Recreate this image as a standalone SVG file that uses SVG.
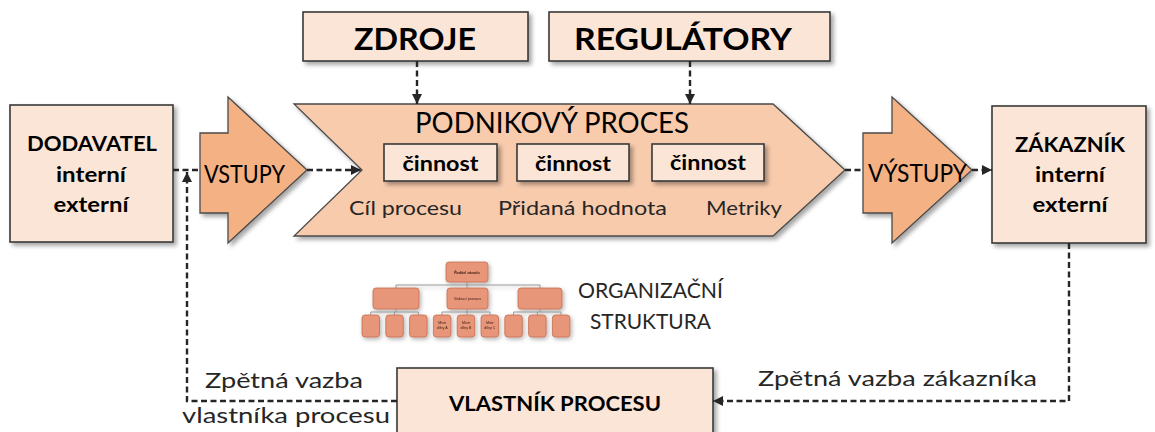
<svg xmlns="http://www.w3.org/2000/svg" width="1155" height="432" viewBox="0 0 1155 432">
  <defs>
    <filter id="shadow" x="-10%" y="-10%" width="130%" height="140%">
      <feDropShadow dx="3" dy="3" stdDeviation="2.2" flood-color="#000" flood-opacity="0.35"/>
    </filter>
    <filter id="softShadow" x="-10%" y="-10%" width="130%" height="140%">
      <feGaussianBlur in="SourceGraphic" stdDeviation="0.45" result="b"/>
      <feDropShadow in="b" dx="1.5" dy="2" stdDeviation="2" flood-color="#000" flood-opacity="0.3"/>
    </filter>
    <marker id="ah" viewBox="0 0 10 10" refX="10" refY="5" markerWidth="10" markerHeight="10" markerUnits="userSpaceOnUse" orient="auto">
      <path d="M0,0 L10,5 L0,10 z" fill="#262626"/>
    </marker>
  </defs>
  <style>
    .box { fill: #FBE5D6; stroke: #3a3a3a; stroke-width: 1.6; }
    .chev { fill: #F8CBAD; stroke: #4a4a4a; stroke-width: 1.3; }
    .io { fill: #F4B183; stroke: #4a4a4a; stroke-width: 1.3; }
    .org { fill: #E8967A; stroke: #C56B4B; stroke-width: 0.8; }
    .orgline { fill: none; stroke: #8c8c8c; stroke-width: 0.9; }
    .t { font-family: Lato, "Open Sans", "Noto Sans", sans-serif; }
    .b { font-weight: bold; fill: #000; }
    .r { font-weight: normal; fill: #262626; }
    .tiny { font-family: "Liberation Sans", Arial, sans-serif; font-size: 3.6px; fill: #3a1a10; text-anchor: middle; }
    .dash { fill: none; stroke: #262626; stroke-width: 2.4; stroke-dasharray: 6 3.5; }
  </style>

  <rect width="1155" height="432" fill="#ffffff"/>

  <!-- resources -->
  <g id="zdroje">
    <rect class="box" x="303" y="12" width="225" height="49" filter="url(#shadow)"/>
    <text class="t b" x="415" y="50" font-size="30" text-anchor="middle" textLength="122" lengthAdjust="spacingAndGlyphs">ZDROJE</text>
  </g>

  <!-- regulators -->
  <g id="regulatory">
    <rect class="box" x="549" y="12" width="281" height="49" filter="url(#shadow)"/>
    <text class="t b" x="683" y="50" font-size="30" text-anchor="middle" textLength="218" lengthAdjust="spacingAndGlyphs">REGULÁTORY</text>
  </g>

  <!-- supplier -->
  <g id="dodavatel">
    <rect class="box" x="10" y="105" width="163" height="137" filter="url(#shadow)"/>
    <text class="t b" x="92" y="151" font-size="20" text-anchor="middle" textLength="130" lengthAdjust="spacingAndGlyphs">DODAVATEL</text>
    <text class="t b" x="91" y="182" font-size="20" text-anchor="middle" textLength="70" lengthAdjust="spacingAndGlyphs">interní</text>
    <text class="t b" x="91" y="212" font-size="20" text-anchor="middle" textLength="75" lengthAdjust="spacingAndGlyphs">externí</text>
  </g>

  <!-- inputs -->
  <g id="vstupy">
    <polygon class="io" points="200,133 228,133 228,97 307,170 228,243 228,213 200,213" filter="url(#shadow)"/>
    <text class="t r" x="204" y="183" font-size="25" fill="#000" style="fill:#000" textLength="81" lengthAdjust="spacingAndGlyphs">VSTUPY</text>
  </g>

  <!-- business process -->
  <g id="podnikovy-proces">
    <polygon class="chev" points="294,104 773,104 845,170 773,236 294,236 362,170" filter="url(#shadow)"/>
    <text class="t r" x="415" y="133" font-size="28" style="fill:#000" textLength="274" lengthAdjust="spacingAndGlyphs">PODNIKOVÝ PROCES</text>
    <g id="cinnost-1">
      <rect class="box" x="384" y="144" width="113" height="37" filter="url(#shadow)"/>
      <text class="t b" x="440.5" y="171" font-size="20" text-anchor="middle" textLength="76" lengthAdjust="spacingAndGlyphs">činnost</text>
    </g>
    <g id="cinnost-2">
      <rect class="box" x="517" y="144" width="112" height="37" filter="url(#shadow)"/>
      <text class="t b" x="573" y="171" font-size="20" text-anchor="middle" textLength="76" lengthAdjust="spacingAndGlyphs">činnost</text>
    </g>
    <g id="cinnost-3">
      <rect class="box" x="652" y="144" width="112" height="37" filter="url(#shadow)"/>
      <text class="t b" x="708" y="170" font-size="20" text-anchor="middle" textLength="76" lengthAdjust="spacingAndGlyphs">činnost</text>
    </g>
    <text class="t r" x="349" y="215" font-size="20" textLength="113" lengthAdjust="spacingAndGlyphs">Cíl procesu</text>
    <text class="t r" x="498" y="215" font-size="20" textLength="169" lengthAdjust="spacingAndGlyphs">Přidaná hodnota</text>
    <text class="t r" x="706" y="215" font-size="20" textLength="76" lengthAdjust="spacingAndGlyphs">Metriky</text>
  </g>

  <!-- outputs -->
  <g id="vystupy">
    <polygon class="io" points="863,133 892,133 892,97 972,170 892,243 892,213 863,213" filter="url(#shadow)"/>
    <text class="t r" x="868" y="182" font-size="25" style="fill:#000" textLength="99" lengthAdjust="spacingAndGlyphs">VÝSTUPY</text>
  </g>

  <!-- customer -->
  <g id="zakaznik">
    <rect class="box" x="992" y="106" width="154" height="137" filter="url(#shadow)"/>
    <text class="t b" x="1070" y="152" font-size="20" text-anchor="middle" textLength="110" lengthAdjust="spacingAndGlyphs">ZÁKAZNÍK</text>
    <text class="t b" x="1070" y="182" font-size="20" text-anchor="middle" textLength="70" lengthAdjust="spacingAndGlyphs">interní</text>
    <text class="t b" x="1070" y="212" font-size="20" text-anchor="middle" textLength="75" lengthAdjust="spacingAndGlyphs">externí</text>
  </g>

  <!-- organisational chart -->
  <g id="organizacni-struktura">
    <g filter="url(#softShadow)">
      <path class="orgline" d="M467,282 V288 M396,288 V285 H540 V288 M396,309 V312 M370.75,315 V312 H418.35 V315 M394.55,312 V315 M467,309 V315 M442,315 V312 H490 V315 M540,309 V312 M513.6,315 V312 H561 V315 M537.4,312 V315"/>
      <rect class="org" x="446" y="262" width="42" height="20" rx="3"/>
      <rect class="org" x="373" y="288" width="46" height="21" rx="3"/>
      <rect class="org" x="447" y="288" width="41" height="21" rx="3"/>
      <rect class="org" x="518" y="288" width="44" height="21" rx="3"/>
      <rect class="org" x="362" y="315" width="17.5" height="22" rx="3"/>
      <rect class="org" x="385.8" y="315" width="17.5" height="22" rx="3"/>
      <rect class="org" x="409.6" y="315" width="17.5" height="22" rx="3"/>
      <rect class="org" x="433.4" y="315" width="17.5" height="22" rx="3"/>
      <rect class="org" x="457.2" y="315" width="17.5" height="22" rx="3"/>
      <rect class="org" x="481" y="315" width="17.5" height="22" rx="3"/>
      <rect class="org" x="504.8" y="315" width="17.5" height="22" rx="3"/>
      <rect class="org" x="528.6" y="315" width="17.5" height="22" rx="3"/>
      <rect class="org" x="552.4" y="315" width="17.5" height="22" rx="3"/>
      <text class="tiny" x="467" y="273.5" font-weight="bold">Ředitel závodu</text>
      <text class="tiny" x="467.5" y="300">Vedoucí provozu</text>
      <text class="tiny" x="442.2" y="324">Mistr</text>
      <text class="tiny" x="442.2" y="329">dílny A</text>
      <text class="tiny" x="466" y="324">Mistr</text>
      <text class="tiny" x="466" y="329">dílny B</text>
      <text class="tiny" x="489.8" y="324">Mistr</text>
      <text class="tiny" x="489.8" y="329">dílny C</text>
    </g>
    <text class="t r" x="578" y="298" font-size="22" textLength="145" lengthAdjust="spacingAndGlyphs">ORGANIZAČNÍ</text>
    <text class="t r" x="590" y="329" font-size="22" textLength="121" lengthAdjust="spacingAndGlyphs">STRUKTURA</text>
  </g>

  <!-- process owner -->
  <g id="vlastnik-procesu">
    <rect class="box" x="397" y="368" width="316" height="80" filter="url(#shadow)"/>
    <text class="t b" x="555" y="411" font-size="20" text-anchor="middle" textLength="212" lengthAdjust="spacingAndGlyphs">VLASTNÍK PROCESU</text>
  </g>

  <!-- feedback labels -->
  <g id="popisky">
    <text class="t r" x="205" y="388" font-size="22" textLength="158" lengthAdjust="spacingAndGlyphs">Zpětná vazba</text>
    <text class="t r" x="182" y="423" font-size="22" textLength="208" lengthAdjust="spacingAndGlyphs">vlastníka procesu</text>
    <text class="t r" x="758" y="386" font-size="22" textLength="279" lengthAdjust="spacingAndGlyphs">Zpětná vazba zákazníka</text>
  </g>

  <!-- connectors -->
  <g id="connectors">
    <path class="dash" d="M417,61 V104" marker-end="url(#ah)"/>
    <path class="dash" d="M690,61 V104" marker-end="url(#ah)"/>
    <path class="dash" d="M173,170 H200"/>
    <path class="dash" d="M307,170 H361" marker-end="url(#ah)"/>
    <path class="dash" d="M845,170 H863"/>
    <path class="dash" d="M972,170 H992" marker-end="url(#ah)"/>
    <path class="dash" d="M1069,243 V401 H713" marker-end="url(#ah)"/>
    <path class="dash" d="M397,401 H187 V172" marker-end="url(#ah)"/>
  </g>
</svg>
